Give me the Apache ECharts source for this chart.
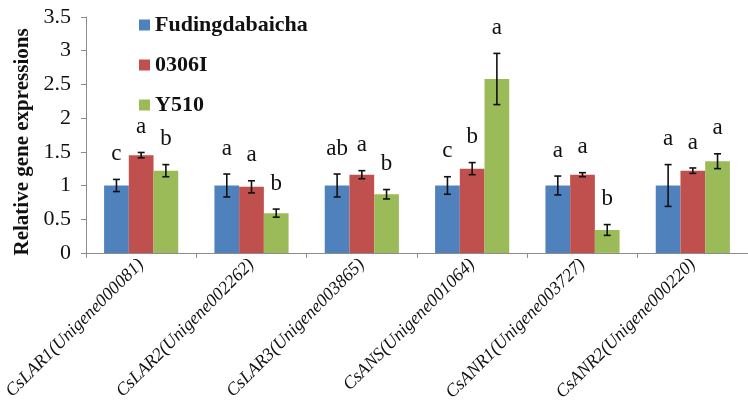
<!DOCTYPE html>
<html>
<head>
<meta charset="utf-8">
<script src="https://cdn.jsdelivr.net/npm/echarts@6/dist/echarts.min.js"></script>
<style>html,body{margin:0;padding:0;background:#fff}#c{width:748px;height:404px}</style>
</head>
<body>
<div id="c"></div>
<script>
var categories = ['CsLAR1(Unigene000081)','CsLAR2(Unigene002262)','CsLAR3(Unigene003865)','CsANS(Unigene001064)','CsANR1(Unigene003727)','CsANR2(Unigene000220)'];
var seriesNames = ['Fudingdabaicha','0306I','Y510'];
var fudingValues = [1.0, 1.0, 1.0, 1.0, 1.0, 1.0];
var fudingErrors = [0.09, 0.17, 0.17, 0.13, 0.14, 0.31];
var fudingLetters = ['c','a','ab','c','a','a'];
var s0306IValues = [1.45, 0.98, 1.16, 1.25, 1.16, 1.22];
var s0306IErrors = [0.04, 0.09, 0.06, 0.09, 0.03, 0.04];
var s0306ILetters = ['a','a','a','b','a','a'];
var y510Values = [1.22, 0.59, 0.87, 2.58, 0.34, 1.36];
var y510Errors = [0.09, 0.06, 0.07, 0.38, 0.08, 0.11];
var y510Letters = ['b','b','b','a','b','a'];
var yTicks = {min: 0, max: 3.5, interval: 0.5};

var colors = ['#4F81BD','#C0504D','#9BBB59'];
var BAR_FRAC = 0.224;
var serif = '"Liberation Serif","Times New Roman",serif';

var valuesAll = [fudingValues, s0306IValues, y510Values];
var errorsAll = [fudingErrors, s0306IErrors, y510Errors];
var lettersAll = [fudingLetters, s0306ILetters, y510Letters];

function makeRender(si) {
  return function (params, api) {
    var ci = api.value(0), mean = api.value(1), err = api.value(2);
    var c = api.coord([ci, mean]);
    var band = api.size([1, 0])[0];
    var x = c[0] + (si - 1) * band * BAR_FRAC;
    var top = api.coord([ci, mean + err])[1];
    var bot = api.coord([ci, mean - err])[1];
    var cap = 3.5;
    var ls = {stroke: '#111', lineWidth: 1.6};
    return {type: 'group', children: [
      {type: 'line', shape: {x1: x, y1: top, x2: x, y2: bot}, style: ls},
      {type: 'line', shape: {x1: x - cap, y1: top, x2: x + cap, y2: top}, style: ls},
      {type: 'line', shape: {x1: x - cap, y1: bot, x2: x + cap, y2: bot}, style: ls},
      {type: 'text', x: x, y: top - 14, style: {text: lettersAll[si][params.dataIndex], fill: '#111', font: '23px ' + serif, align: 'center', verticalAlign: 'bottom'}}
    ]};
  };
}

var series = [];
for (var i = 0; i < 3; i++) {
  series.push({
    name: seriesNames[i], type: 'bar', data: valuesAll[i],
    barWidth: (BAR_FRAC * 100) + '%', barGap: '0%',
    itemStyle: {color: colors[i]}, z: 2
  });
}
for (var j = 0; j < 3; j++) {
  var d = [];
  for (var k = 0; k < categories.length; k++) d.push([k, valuesAll[j][k], errorsAll[j][k]]);
  series.push({
    type: 'custom', renderItem: makeRender(j), data: d,
    encode: {x: 0, y: 1}, z: 5, silent: true
  });
}

var chart = echarts.init(document.getElementById('c'), null, {renderer: 'canvas'});
chart.setOption({
  backgroundColor: '#fff',
  animation: false,
  grid: {left: 86, top: 17, width: 671, bottom: 151, containLabel: false},
  legend: {
    data: seriesNames, orient: 'vertical', left: 134, top: 9,
    icon: 'rect', itemWidth: 11, itemHeight: 11, itemGap: 18,
    textStyle: {fontFamily: serif, fontWeight: 'bold', fontSize: 22, color: '#111'}
  },
  xAxis: {
    type: 'category', data: categories,
    axisLine: {lineStyle: {color: '#8c8c8c'}},
    axisTick: {show: true, length: 5, lineStyle: {color: '#8c8c8c'}},
    axisLabel: {interval: 0, rotate: 45, margin: 9, fontFamily: serif, fontStyle: 'italic', fontSize: 18, color: '#111'}
  },
  yAxis: {
    type: 'value', min: yTicks.min, max: yTicks.max, interval: yTicks.interval,
    name: 'Relative gene expressions', nameLocation: 'middle', nameRotate: 90, nameGap: 40,
    nameTextStyle: {fontFamily: serif, fontWeight: 'bold', fontSize: 21, color: '#111', padding: [0, 14, 0, 0]},
    axisLine: {show: true, lineStyle: {color: '#8c8c8c'}},
    axisTick: {show: true, length: 5, lineStyle: {color: '#8c8c8c'}},
    splitLine: {show: false},
    axisLabel: {fontFamily: serif, fontSize: 22, color: '#111', margin: 15}
  },
  series: series
});
</script>
</body>
</html>
